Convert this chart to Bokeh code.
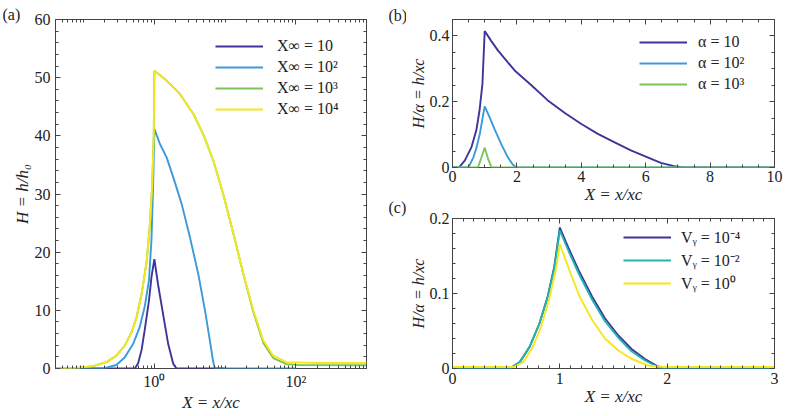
from bokeh.plotting import figure
from bokeh.models import (Range1d, FixedTicker, CustomJSTickFormatter, LinearAxis, LogAxis,
                          Legend, LegendItem, Label)
from bokeh.layouts import row, column
from bokeh.embed import file_html
from bokeh.resources import INLINE

# ---------------- data: panel (a) ----------------
a_x_10 = [0.04, 0.53, 0.59, 0.66, 0.73, 0.84, 0.91, 1.0, 1.13, 1.33, 1.57, 1.85, 2.06, 10]
a_h_10 = [0, 0, 0.9, 3.2, 6.6, 11.7, 15.7, 18.8, 14.4, 9.3, 4.2, 0.8, 0, 0]

a_x_100 = [0.04, 0.19, 0.29, 0.38, 0.5, 0.62, 0.73, 0.84, 0.91, 0.96, 1.0, 1.2, 1.49, 1.85,
           2.43, 3.18, 4.17, 5.2, 6.1, 6.8, 7.2, 100]
a_h_100 = [0, 0, 0.6, 1.9, 4.2, 7.1, 10.6, 15.2, 22.1, 31.3, 41.2, 38.6, 36.3, 32.9,
           28.3, 22.6, 16.3, 10.0, 4.8, 1.1, 0, 0]

a_x_1000 = [0.04, 0.079, 0.136, 0.21, 0.29, 0.38, 0.475, 0.56, 0.66, 0.78, 0.86, 0.93, 0.98, 1.0,
            1.49, 2.3, 3.55, 4.9, 6.8, 9.4, 13.1, 18.1, 25.1, 34.8, 48, 74, 120, 1000]
a_h_1000 = [0, 0.1, 0.4, 1.1, 2.2, 3.9, 6.2, 8.8, 12.8, 18.5, 24.3, 31.2, 40.0, 51.2,
            49.5, 47.2, 43.8, 40.3, 35.8, 30.0, 23.2, 16.3, 9.7, 4.4, 1.8, 0.75, 0.58, 0.55]

a_x_10000 = [0.04, 0.079, 0.136, 0.21, 0.29, 0.38, 0.475, 0.56, 0.66, 0.78, 0.86, 0.93, 0.98, 1.0,
             1.49, 2.3, 3.55, 4.9, 6.8, 9.4, 13.1, 18.1, 25.1, 34.8, 48, 74, 198, 1000]
a_h_10000 = [0, 0.1, 0.4, 1.1, 2.2, 3.9, 6.2, 8.8, 12.8, 18.5, 24.3, 31.2, 40.0, 51.2,
             49.5, 47.2, 43.8, 40.3, 35.8, 30.0, 23.2, 16.3, 10.0, 4.8, 2.2, 1.1, 0.95, 0.95]

a_labels = ["X∞ = 10", "X∞ = 10²", "X∞ = 10³", "X∞ = 10⁴"]

# ---------------- data: panel (b) ----------------
b_x_10 = [0, 0.2, 0.38, 0.59, 0.74, 0.84, 0.93, 1.0, 1.2, 1.41, 1.93, 2.45, 2.96, 3.5, 3.99, 4.5,
          5.02, 5.54, 6.06, 6.47, 6.88, 7.2, 10]
b_h_10 = [0, 0, 0.021, 0.062, 0.113, 0.174, 0.255, 0.415, 0.385, 0.356, 0.295, 0.25, 0.204, 0.165,
          0.133, 0.103, 0.077, 0.052, 0.031, 0.014, 0.004, 0, 0]

b_x_100 = [0, 0.49, 0.65, 0.75, 0.85, 0.93, 1.0, 1.15, 1.3, 1.51, 1.72, 1.87, 1.98, 10]
b_h_100 = [0, 0, 0.031, 0.062, 0.103, 0.148, 0.186, 0.153, 0.118, 0.072, 0.031, 0.009, 0, 0]

b_x_1000 = [0, 0.79, 0.9, 1.0, 1.1, 1.21, 10]
b_h_1000 = [0, 0, 0.031, 0.06, 0.028, 0, 0]

b_labels = ["α = 10", "α = 10²", "α = 10³"]

# ---------------- data: panel (c) ----------------
c_x_m4 = [0, 0.535, 0.627, 0.719, 0.81, 0.887, 0.949, 1.0, 1.086, 1.178, 1.30, 1.42, 1.545,
          1.668, 1.79, 1.91, 1.97, 3]
c_h_m4 = [0, 0, 0.0085, 0.029, 0.060, 0.096, 0.136, 0.188, 0.159, 0.130, 0.096, 0.067, 0.044,
          0.026, 0.013, 0.003, 0, 0]

c_x_m2 = [0, 0.535, 0.627, 0.719, 0.81, 0.887, 0.949, 1.0, 1.086, 1.178, 1.30, 1.42, 1.545,
          1.668, 1.79, 1.91, 1.96, 3]
c_h_m2 = [0, 0, 0.0085, 0.029, 0.060, 0.095, 0.134, 0.184, 0.155, 0.126, 0.092, 0.063, 0.041,
          0.023, 0.011, 0.002, 0, 0]

c_x_0 = [0, 0.57, 0.66, 0.75, 0.826, 0.90, 0.964, 1.0, 1.086, 1.178, 1.30, 1.42, 1.545, 1.668,
         1.82, 1.97, 3]
c_h_0 = [0.002, 0.002, 0.0085, 0.029, 0.056, 0.092, 0.132, 0.166, 0.132, 0.098, 0.065, 0.040,
         0.024, 0.013, 0.004, 0.002, 0.002]

c_labels = ["Vᵧ = 10⁻⁴", "Vᵧ = 10⁻²", "Vᵧ = 10⁰"]

panel_tags = ["(a)", "(b)", "(c)"]

# ---------------- styles ----------------
PURPLE = "#3d3597"
BLUE = "#3c9ad8"
GREEN = "#7cc35a"
YELLOW = "#f2e81d"
TEAL = "#22b5b0"
FRAME = "#444444"
TXT = "#222222"
FONT = "Liberation Serif"
LW = 1.9


def style_axis(ax, label_font="17px", tick_font="16px"):
    ax.major_tick_in = 5
    ax.major_tick_out = 0
    ax.minor_tick_in = 3
    ax.minor_tick_out = 0
    ax.major_tick_line_color = FRAME
    ax.minor_tick_line_color = FRAME
    ax.axis_line_color = None
    ax.major_label_text_font = FONT
    ax.major_label_text_font_size = tick_font
    ax.major_label_text_color = TXT
    ax.axis_label_text_font = FONT
    ax.axis_label_text_font_size = label_font
    ax.axis_label_text_font_style = "italic"
    ax.axis_label_text_color = TXT


def mirror(p, ax_cls, side, ticker):
    ax = ax_cls(ticker=ticker)
    style_axis(ax)
    ax.formatter = CustomJSTickFormatter(code="return '';")
    ax.major_label_standoff = 0
    ax.major_label_text_font_size = "2px"
    p.add_layout(ax, side)


def base_fig(width, height, xr, yr, mb, x_log=False):
    p = figure(width=width, height=height, x_range=xr, y_range=yr,
               x_axis_type="log" if x_log else "linear",
               output_backend="svg", toolbar_location=None,
               min_border_left=mb[0], min_border_right=mb[1],
               min_border_top=mb[2], min_border_bottom=mb[3])
    p.grid.visible = False
    p.outline_line_color = FRAME
    p.outline_line_width = 1
    p.background_fill_color = "white"
    p.border_fill_color = "white"
    return p


def make_legend(p, renderers, labels, loc, standoff):
    items = [LegendItem(label=l, renderers=[r]) for l, r in zip(labels, renderers)]
    lg = Legend(items=items, location=loc, glyph_width=48, glyph_height=20, label_height=20,
                spacing=1, padding=0, margin=0, label_standoff=standoff,
                border_line_alpha=0, background_fill_alpha=0,
                label_text_font=FONT, label_text_font_size="16px", label_text_color=TXT)
    p.add_layout(lg, "center")


def panel_label(p, side, text, x, y):
    p.add_layout(Label(x=x, y=y, x_units="screen", y_units="screen", text=text,
                       text_align="left", text_baseline="middle",
                       text_font=FONT, text_font_size="16px", text_color=TXT), side)


# ---------------- panel (a) ----------------
fa = base_fig(406, 415, Range1d(0.04, 1000), Range1d(0, 60), (55, 40, 19, 47), x_log=True)
a_minor = [k * 10.0 ** e for e in range(-2, 4) for k in range(1, 10)]
a_minor = [m for m in a_minor if m not in (1.0, 100.0)]
a_xt = FixedTicker(ticks=[1, 100], minor_ticks=a_minor)
a_yt = FixedTicker(ticks=[0, 10, 20, 30, 40, 50, 60], minor_ticks=list(range(0, 61, 2)))
fa.xaxis.ticker = a_xt
fa.yaxis.ticker = a_yt
fa.xaxis.formatter = CustomJSTickFormatter(
    code="return Math.abs(tick-1)<1e-9 ? '10⁰' : '10²';")
fa.xaxis.axis_label = "X = x/xc"
fa.yaxis.axis_label = "H = h/h₀"
for ax in fa.xaxis:
    style_axis(ax)
    ax.major_label_standoff = 4
    ax.axis_label_standoff = 0
for ax in fa.yaxis:
    style_axis(ax)
    ax.major_label_standoff = 5
    ax.axis_label_standoff = 0
mirror(fa, LogAxis, "above", a_xt)
mirror(fa, LinearAxis, "right", a_yt)

ra1 = fa.line(a_x_10, a_h_10, line_color=PURPLE, line_width=LW)
ra2 = fa.line(a_x_100, a_h_100, line_color=BLUE, line_width=LW)
ra3 = fa.line(a_x_1000, a_h_1000, line_color=GREEN, line_width=LW)
ra4 = fa.line(a_x_10000, a_h_10000, line_color=YELLOW, line_width=LW)
make_legend(fa, [ra1, ra2, ra3, ra4], a_labels, (160, 249), 14)
# panel tags live in the side panels (not clipped to the frame)
panel_label(fa, "above", panel_tags[0], -53, 5)
panel_label(fa, "right", panel_tags[1], 22, 353)
panel_label(fa, "right", panel_tags[2], 3, 161)

# ---------------- panel (b) ----------------
fb = base_fig(384, 208, Range1d(0, 10), Range1d(0, 0.45), (45, 16, 19, 41))
b_xt = FixedTicker(ticks=[0, 2, 4, 6, 8, 10], minor_ticks=[i * 0.5 for i in range(0, 21)])
b_yt = FixedTicker(ticks=[0, 0.2, 0.4], minor_ticks=[i * 0.05 for i in range(0, 10)])
fb.xaxis.ticker = b_xt
fb.yaxis.ticker = b_yt
fb.yaxis.formatter = CustomJSTickFormatter(code="return tick == 0 ? '0' : tick.toFixed(1);")
fb.xaxis.axis_label = "X = x/xc"
fb.yaxis.axis_label = "H/α = h/xc"
for ax in fb.xaxis:
    style_axis(ax)
    ax.major_label_standoff = 3
    ax.axis_label_standoff = 0
for ax in fb.yaxis:
    style_axis(ax, label_font="16px")
    ax.major_label_standoff = 3
    ax.axis_label_standoff = 0
mirror(fb, LinearAxis, "above", b_xt)
mirror(fb, LinearAxis, "right", b_yt)

rb1 = fb.line(b_x_10, b_h_10, line_color=PURPLE, line_width=LW)
rb2 = fb.line(b_x_100, b_h_100, line_color=BLUE, line_width=LW)
rb3 = fb.line(b_x_1000, b_h_1000, line_color=GREEN, line_width=LW)
make_legend(fb, [rb1, rb2, rb3], b_labels, (187, 73), 11)

# ---------------- panel (c) ----------------
fc = base_fig(384, 207, Range1d(0, 3), Range1d(0, 0.2), (45, 12, 10, 47))
c_xt = FixedTicker(ticks=[0, 1, 2, 3], minor_ticks=[i * 0.1 for i in range(0, 31)])
c_yt = FixedTicker(ticks=[0, 0.1, 0.2], minor_ticks=[i * 0.02 for i in range(0, 11)])
fc.xaxis.ticker = c_xt
fc.yaxis.ticker = c_yt
fc.yaxis.formatter = CustomJSTickFormatter(code="return tick == 0 ? '0' : tick.toFixed(1);")
fc.xaxis.axis_label = "X = x/xc"
fc.yaxis.axis_label = "H/α = h/xc"
for ax in fc.xaxis:
    style_axis(ax)
    ax.major_label_standoff = 4
    ax.axis_label_standoff = 0
for ax in fc.yaxis:
    style_axis(ax, label_font="16px")
    ax.major_label_standoff = 3
    ax.axis_label_standoff = 0
mirror(fc, LinearAxis, "above", c_xt)
mirror(fc, LinearAxis, "right", c_yt)

rc1 = fc.line(c_x_m4, c_h_m4, line_color=PURPLE, line_width=LW)
rc2 = fc.line(c_x_m2, c_h_m2, line_color=TEAL, line_width=LW)
rc3 = fc.line(c_x_0, c_h_0, line_color=YELLOW, line_width=LW)
make_legend(fc, [rc1, rc2, rc3], c_labels, (171, 74), 10)

layout = row(fa, column(fb, fc))
open("out.html", "w").write(file_html(layout, INLINE))
